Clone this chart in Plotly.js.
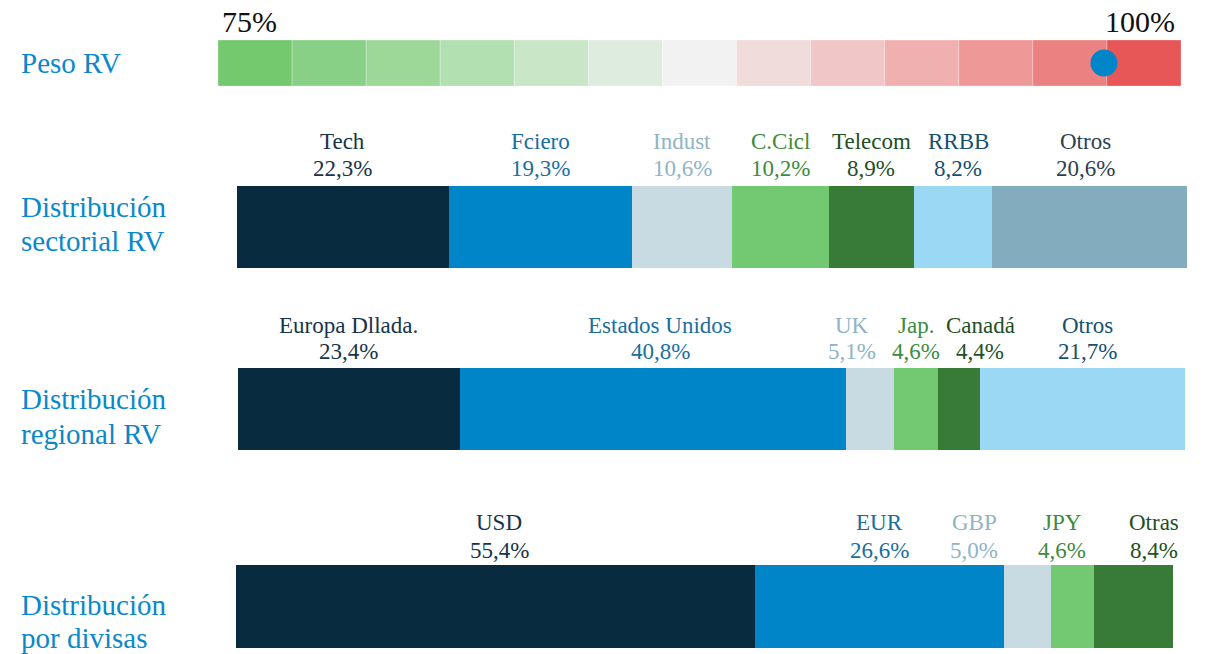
<!DOCTYPE html>
<html>
<head>
<meta charset="utf-8">
<script src="https://cdn.plot.ly/plotly-3.0.1.min.js"></script>
<style>html,body{margin:0;padding:0;background:#fff;}#chart{width:1208px;height:654px;}</style>
</head>
<body>
<div id="chart"></div>
<script>
// ---------- DATA ----------
const rowTitles = [["Peso RV"], ["Distribución", "sectorial RV"], ["Distribución", "regional RV"], ["Distribución", "por divisas"]];

const pesoMin = 75;
const pesoMax = 100;
const pesoValue = 98;
const pesoTickLabels = ["75%", "100%"];

const sectorNames  = ["Tech", "Fciero", "Indust", "C.Cicl", "Telecom", "RRBB", "Otros"];
const sectorValues = [22.3, 19.3, 10.6, 10.2, 8.9, 8.2, 20.6];

const regionNames  = ["Europa Dllada.", "Estados Unidos", "UK", "Jap.", "Canadá", "Otros"];
const regionValues = [23.4, 40.8, 5.1, 4.6, 4.4, 21.7];

const currencyNames  = ["USD", "EUR", "GBP", "JPY", "Otras"];
const currencyValues = [55.4, 26.6, 5.0, 4.6, 8.4];

// ---------- STYLE ----------
const pesoColors = ["#74c96f","#88d085","#9dd899","#b3e0b0","#c9e6c7","#deecdf","#f2f2f2",
                    "#f1dcdc","#f1c6c6","#f0b0b0","#ee9898","#ec8181","#e85757"];
const C = {navy:"#082b3f", blue:"#0085c9", light:"#c8dbe2", lgreen:"#73c971", dgreen:"#377b37", lblue:"#9bd8f4", slate:"#84acbf"};
const T = {navy:"#17344a", blue:"#1a6e9e", light:"#8fb4c6", lgreen:"#3d8b3d", dgreen:"#234f23", lblue:"#17506f", slate:"#2e4050"};

const sectorFill = [C.navy, C.blue, C.light, C.lgreen, C.dgreen, C.lblue, C.slate];
const sectorText = [T.navy, T.blue, T.light, T.lgreen, T.dgreen, T.lblue, T.slate];
const sectorNudge = [0, 0, 0, 0, 0, 0.6, -0.4];

const regionFill = [C.navy, C.blue, C.light, C.lgreen, C.dgreen, C.lblue];
const regionText = [T.navy, T.blue, T.light, T.lgreen, T.dgreen, T.lblue];
const regionNudge = [0, 0.8, -1.9, 0, 2.3, 0.6];

const currencyFill = [C.navy, C.blue, C.light, C.lgreen, C.dgreen];
const currencyText = [T.navy, T.blue, T.light, T.lgreen, T.dgreen];
const currencyNudge = [0.4, 0, -5.7, -1.1, 2.2];

const H = 654, W = 1208;
const py = v => 1 - v / H;
const px = v => v / W;

const serif = "Liberation Serif, serif";

function fmt(v){ return v.toFixed(1).replace(".", ",") + "%"; }
function cum(vals){ const b=[]; let s=0; vals.forEach(v=>{b.push(s); s+=v;}); return b; }
function sum(vals){ return vals.reduce((a,b)=>a+b,0); }

const traces = [];
const annotations = [];

// ---------- Row 1: Peso RV ----------
const step = (pesoMax - pesoMin) / pesoColors.length;
const pesoBase = pesoColors.map((c,i)=> pesoMin + i*step);
traces.push({
  type:"bar", orientation:"h", xaxis:"x", yaxis:"y",
  y: pesoColors.map(()=> "p"), x: pesoColors.map(()=> step), base: pesoBase,
  marker:{color: pesoColors, line:{width:1, color:"rgba(255,255,255,0.25)"}},
  hoverinfo:"skip", showlegend:false
});
traces.push({
  type:"scatter", mode:"markers", xaxis:"x", yaxis:"y",
  x:[pesoValue], y:["p"],
  marker:{size:27, color:"#0085c9"}, hoverinfo:"skip", showlegend:false
});
annotations.push({xref:"x", yref:"paper", x:pesoMin, y:py(21), text:pesoTickLabels[0], showarrow:false,
  xanchor:"left", yanchor:"middle", xshift:2, font:{family:serif, size:30, color:"#111"}});
annotations.push({xref:"x", yref:"paper", x:pesoMax, y:py(21), text:pesoTickLabels[1], showarrow:false,
  xanchor:"right", yanchor:"middle", xshift:-4, font:{family:serif, size:30, color:"#111"}});

// ---------- stacked rows ----------
function stackedRow(ax, yax, names, values, fills, texts, nudges, nameY, pctY, fsize){
  const base = cum(values);
  traces.push({
    type:"bar", orientation:"h", xaxis:ax, yaxis:yax,
    y: values.map(()=> "r"), x: values, base: base,
    marker:{color: fills, line:{width:0}},
    hoverinfo:"skip", showlegend:false
  });
  values.forEach((v,i)=>{
    const cx = base[i] + v/2 + nudges[i];
    annotations.push({xref:ax, yref:"paper", x:cx, y:py(nameY), text:names[i], showarrow:false,
      xanchor:"center", yanchor:"middle", font:{family:serif, size:fsize, color:texts[i]}});
    annotations.push({xref:ax, yref:"paper", x:cx, y:py(pctY), text:fmt(v), showarrow:false,
      xanchor:"center", yanchor:"middle", font:{family:serif, size:fsize, color:texts[i]}});
  });
}
stackedRow("x2","y2", sectorNames, sectorValues, sectorFill, sectorText, sectorNudge, 141, 168, 23);
stackedRow("x3","y3", regionNames, regionValues, regionFill, regionText, regionNudge, 325, 352, 23);
stackedRow("x4","y4", currencyNames, currencyValues, currencyFill, currencyText, currencyNudge, 522, 550, 23);

// ---------- row titles ----------
const titleY = [[63], [207, 241], [399, 434], [605, 638]];
rowTitles.forEach((lines, r)=>{
  lines.forEach((t, j)=>{
    annotations.push({xref:"paper", yref:"paper", x:px(19), y:py(titleY[r][j]), text:t, showarrow:false,
      xanchor:"left", yanchor:"middle", font:{family:serif, size:29, color:"#0a88c9"}});
  });
});

function xa(d, range){ return {domain:d, range:range, showgrid:false, zeroline:false, showticklabels:false, showline:false, fixedrange:true}; }
function ya(d, anchor){ return {domain:d, range:[-0.5,0.5], type:"category", showgrid:false, zeroline:false, showticklabels:false, showline:false, fixedrange:true, anchor:anchor}; }

const layout = {
  width:W, height:H, margin:{l:0,r:0,t:0,b:0},
  paper_bgcolor:"#fff", plot_bgcolor:"rgba(0,0,0,0)",
  barmode:"overlay", bargap:0, showlegend:false,
  xaxis: Object.assign(xa([px(218), px(1181)], [pesoMin, pesoMax]), {anchor:"y"}),
  yaxis: ya([py(86), py(40)], "x"),
  xaxis2: Object.assign(xa([px(237), px(1187)], [0, sum(sectorValues)]), {anchor:"y2"}),
  yaxis2: ya([py(268), py(186)], "x2"),
  xaxis3: Object.assign(xa([px(238), px(1185)], [0, sum(regionValues)]), {anchor:"y3"}),
  yaxis3: ya([py(450), py(368)], "x3"),
  xaxis4: Object.assign(xa([px(236), px(1173)], [0, sum(currencyValues)]), {anchor:"y4"}),
  yaxis4: ya([py(648), py(565)], "x4"),
  annotations: annotations
};

Plotly.newPlot("chart", traces, layout, {displayModeBar:false, staticPlot:true});
</script>
</body>
</html>
